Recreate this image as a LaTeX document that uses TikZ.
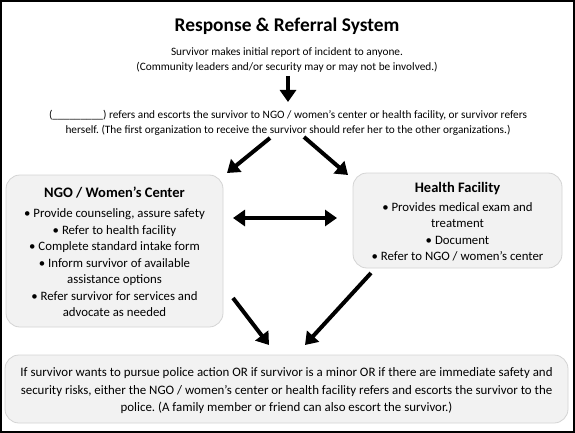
\documentclass[tikz,border=0pt]{standalone}
\usepackage{fontspec}
\setmainfont{Carlito}
\usetikzlibrary{arrows.meta}
\frenchspacing
\begin{document}
\begin{tikzpicture}[x=1pt,y=-1pt,
  box/.style={draw=black!17,fill=black!5,rounded corners=14pt,line width=0.8pt,inner sep=0pt},
  intro/.style={align=center,inner sep=0pt,font=\fontsize{11.3}{15}\selectfont},
  boxtext/.style={align=center,inner sep=0pt,font=\fontsize{12.8}{16.5}\selectfont},
  boxtitle/.style={inner sep=0pt,font=\fontsize{14.5}{17}\selectfont\bfseries},
  bigarrow/.style={line width=4pt,-{Triangle[length=12pt,width=16pt]}},
  dblarrow/.style={line width=4pt,{Triangle[length=12pt,width=16pt]}-{Triangle[length=12pt,width=16pt]}}]
\useasboundingbox (0,0) rectangle (575,433);
\draw[line width=1.8pt] (0.9,0.9) rectangle (574.1,432.1);
\node[inner sep=0pt,anchor=base,font=\fontsize{19.4}{22}\selectfont\bfseries] (title) at (287,32) {Response \& Referral System};
\node[intro] (report) at (287,60) {Survivor makes initial report of incident to anyone.\\(Community leaders and/or security may or may not be involved.)};
\node[intro] (escort) at (288,123) {(\_\_\_\_\_\_\_\_\_) refers and escorts the survivor to NGO / women’s center or health facility, or survivor refers\\herself. (The first organization to receive the survivor should refer her to the other organizations.)};
\coordinate (a1s) at (288,76);
\coordinate (a1e) at (288,102);
\draw[bigarrow] (a1s) -- (a1e);
% boxes
\node[box,minimum width=217pt,minimum height=152pt] (ngo) at (114.5,251) {};
\node[box,minimum width=209pt,minimum height=95pt] (health) at (457.5,220.5) {};
\node[box,minimum width=563pt,minimum height=68pt] (police) at (286.5,389) {};
\node[boxtitle] (ngot) at (114.5,193) {NGO / Women’s Center};
\node[boxtext] (ngob) at (114.5,263) {• Provide counseling, assure safety\\• Refer to health facility\\• Complete standard intake form\\• Inform survivor of available\\assistance options\\• Refer survivor for services and\\advocate as needed};
\node[boxtitle] (healtht) at (457.5,188.5) {Health Facility};
\node[boxtext] (healthb) at (457.5,232) {• Provides medical exam and\\treatment\\• Document\\• Refer to NGO / women’s center};
\node[boxtext,font=\fontsize{12.9}{17.5}\selectfont] (policet) at (286.5,391) {If survivor wants to pursue police action OR if survivor is a minor OR if there are immediate safety and\\security risks, either the NGO / women’s center or health facility refers and escorts the survivor to the\\police. (A family member or friend can also escort the survivor.)};
% arrows
\coordinate (l1s) at (270,138);
\coordinate (l1e) at (227,173);
\coordinate (r1s) at (304,137);
\coordinate (r1e) at (348,175);
\draw[bigarrow] (l1s) -- (l1e);
\draw[bigarrow] (r1s) -- (r1e);
\coordinate (dl) at (233,218);
\coordinate (dr) at (337,218);
\draw[dblarrow] (dl) -- (dr);
\coordinate (b1s) at (233,298);
\coordinate (b1e) at (269,345);
\coordinate (b2s) at (371,273);
\coordinate (b2e) at (305,345);
\draw[bigarrow] (b1s) -- (b1e);
\draw[bigarrow] (b2s) -- (b2e);
\end{tikzpicture}
\end{document}
